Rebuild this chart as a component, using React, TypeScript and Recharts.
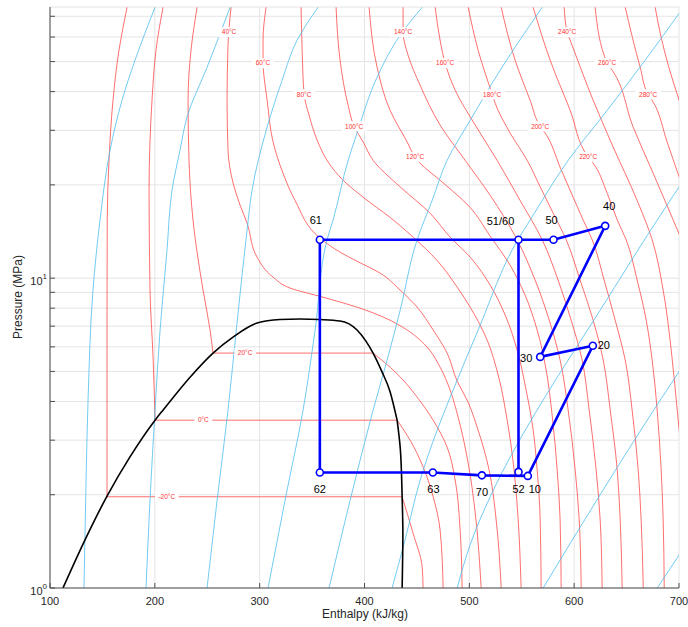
import React from "react";
import { LineChart, Line, XAxis, YAxis, CartesianGrid } from "recharts";

type Row = [number, number];
type Pt = { h: number; p: number };

// enthalpy h in kJ/kg, pressure p in MPa

// saturation dome
const domeTop: Row[] = [
  [112.4, 1], [133.4, 1.43], [154.4, 1.98], [176.3, 2.65], [200.2, 3.48], [207.8, 3.75],
  [233.6, 4.79], [255.5, 5.73], [274.6, 6.45], [297.5, 7.16], [319.5, 7.35], [338.6, 7.38],
  [357.6, 7.35], [376.7, 7.27], [392.9, 6.8], [401.5, 6.25], [408.2, 5.73], [416.5, 5.0],
  [424.4, 4.3], [431.1, 3.48],
];
const domeFoot: Row[] = [
  [431.1, 3.48], [434.2, 2.8], [435.9, 1.97], [436.6, 1.5], [436.3, 1.2], [435.9, 1],
];

// subcritical isotherms: compressed liquid, plateau, superheated vapour
const tM20Liquid: Row[] = [[173.5, 74.8], [165.8, 54.4], [160.1, 37.5], [156.3, 24], [154.6, 15.4], [154.4, 8], [154.4, 1.97]];
const tM20Plateau: Row[] = [[154.4, 1.97], [435.9, 1.97]];
const tM20Vapour: Row[] = [[435.9, 1.97], [446.4, 1.5], [455, 1.17], [455.9, 1]];

const t0Liquid: Row[] = [[207.8, 74.8], [201.1, 54.4], [197.3, 37.5], [194.5, 19.2], [195.4, 9.15], [198.3, 5.56], [200.2, 3.48]];
const t0Plateau: Row[] = [[200.2, 3.48], [431.1, 3.48]];
const t0Vapour: Row[] = [[431.1, 3.48], [443.5, 3.0], [455.9, 2.46], [465.5, 1.97], [472.1, 1.54], [475, 1]];

const t20Liquid: Row[] = [[240.3, 74.8], [234.5, 54.4], [231.7, 37.5], [232.6, 24], [236.4, 15.4], [246, 9.15], [252.7, 6.8], [255.5, 5.73]];
const t20Plateau: Row[] = [[255.5, 5.73], [408.2, 5.73]];
const t20Vapour: Row[] = [[408.2, 5.73], [424.4, 5.16], [436.8, 4.69], [450.2, 4.13], [465.5, 3.48], [478.8, 2.85], [486.5, 2.23], [491.2, 1.54], [493.1, 1]];

// supercritical isotherms
const t40: Row[] = [[272.7, 74.8], [269.8, 56.4], [268.9, 37.5], [269.8, 25.9], [274.6, 20.3], [281.3, 17.2], [288, 15.05], [297.5, 11.69], [312.8, 10.07], [329, 9.29], [360.5, 8.68], [392.9, 8.06], [417.8, 7.49], [440.7, 6.8], [459.7, 5.99], [472.1, 5.16], [481.7, 4.35], [489.3, 3.56], [498.9, 2.53], [505.6, 1.75], [511.3, 1]];
const t60: Row[] = [[306.1, 74.8], [303.2, 58.6], [303.2, 49.4], [305.2, 41.9], [307.1, 37.5], [312.8, 27.5], [322.3, 21.8], [333.8, 17.8], [357.6, 13.46], [376.7, 12.13], [392.9, 11.34], [414.9, 10.38], [434, 9.15], [450.2, 8.06], [465.5, 6.8], [478.8, 5.73], [488.4, 4.65], [497.9, 4.04], [508.4, 3.23], [518.9, 2.4], [525.6, 1.66], [530.4, 1]];
const t80: Row[] = [[339.5, 74.8], [340.5, 54.4], [342.4, 39.2], [347.1, 33.6], [354.8, 27.9], [365.3, 23.7], [379.6, 20.7], [398.7, 18.25], [424.4, 15.7], [446.4, 13.56], [469.3, 11.4], [488.4, 9.35], [500.8, 8.06], [517, 6.31], [527.5, 4.87], [536.1, 3.48], [542.7, 2.4], [546.6, 1.66], [549.4, 1]];
const t100: Row[] = [[372.9, 74.8], [376.7, 50.5], [384.4, 36.1], [390.1, 30.9], [398.7, 27.5], [408.2, 24], [434, 19.7], [462.6, 16.2], [481.7, 13.56], [500.8, 11.69], [519.9, 9.49], [534.2, 7.6], [545.6, 5.86], [554.2, 4.35], [560.9, 3.23], [564.7, 2.4], [567.6, 1.66], [568.5, 1]];
const t120: Row[] = [[404.4, 74.8], [412, 47.9], [424.4, 34.8], [440.7, 27.5], [448.3, 24.6], [453.1, 23.5], [472.1, 20.7], [500.8, 16.9], [519.9, 13.66], [538.9, 11.01], [553.2, 8.81], [564.7, 6.8], [573.3, 5.05], [579, 3.61], [583.8, 2.4], [586.6, 1.66], [587.6, 1]];
const t140: Row[] = [[436.8, 74.8], [436.8, 62.2], [441.6, 52.4], [453.1, 41.9], [472.1, 31.2], [496, 24], [519.9, 18.5], [545.6, 13.3], [562.8, 9.85], [576.2, 7.32], [586.6, 5.44], [594.3, 3.75], [601, 2.4], [604.8, 1.66], [606.7, 1]];
const t160: Row[] = [[467.4, 74.8], [472.1, 58.6], [476.9, 49.4], [486.5, 40.4], [505.6, 31.2], [526.5, 24], [548.5, 17.8], [569.5, 13.3], [584.7, 9.85], [597.1, 7.32], [607.6, 5.44], [614.3, 3.75], [621, 2.4], [624.8, 1.66], [626.7, 1]];
const t180: Row[] = [[498.9, 74.8], [508.4, 54.4], [521.8, 39.2], [524.6, 36.7], [538.9, 29.4], [555.2, 24], [567.6, 19.7], [580, 16.2], [592.4, 13.3], [605.7, 9.85], [618.1, 7.32], [627.7, 5.44], [634.4, 3.75], [641.1, 2.4], [643.9, 1.66], [645.8, 1]];
const t200: Row[] = [[530.4, 74.8], [543.7, 50.5], [558, 37.5], [567.6, 30.9], [572.3, 29.4], [586.6, 22.8], [599, 18.25], [608.6, 15.4], [617.2, 13.3], [628.6, 9.85], [639.1, 7.32], [648.7, 5.44], [655.3, 3.75], [661.1, 2.4], [663.9, 1.66], [665.9, 1]];
const t220: Row[] = [[560.9, 74.8], [577.1, 50.5], [596.2, 34.8], [613.4, 24.6], [618.1, 23.5], [631.5, 18.8], [641.1, 15.4], [649.6, 13.3], [660.1, 9.85], [668.7, 7.32], [674.4, 5.44], [679.2, 3.75], [683, 2.4], [684.9, 1.66], [685.9, 1]];
const t240: Row[] = [[590.5, 74.8], [593.3, 62.2], [596.2, 58.6], [618.1, 37.5], [637.2, 26.5], [660.1, 17.8], [674.4, 13.3], [684.9, 9.15], [692.6, 5.86], [699.2, 3.48], [704, 2.4], [707.8, 1]];
const t260: Row[] = [[620, 74.8], [631.5, 49.4], [636.3, 46.9], [656.3, 30.7], [675.4, 21.8], [694.5, 15.4], [710.7, 11.4]];
const t280: Row[] = [[648.7, 74.8], [663, 47.9], [670.6, 39.2], [674.4, 37.5], [688.7, 27.5], [700.2, 21.2], [710.7, 17.2]];
const t300: Row[] = [[677.3, 74.8], [682.1, 61.7], [700.2, 37.5], [710.7, 30]];

// isentropes, bottom to top
const s1: Row[] = [[132.4, 1], [134.4, 2.23], [136.3, 4.04], [141, 9.15], [147.7, 15.4], [157.3, 25.9], [168.7, 37.5], [181.1, 50.5], [200.2, 74.8]];
const s2: Row[] = [[191.6, 1], [195.4, 1.92], [200.2, 3.75], [205, 6.8], [211.6, 12.3], [216.4, 19.2], [224, 25.9], [230.7, 33.1], [249.8, 47.9], [271.8, 74.8]];
const s3: Row[] = [[249.8, 1], [259.4, 1.92], [269.8, 3.75], [278.4, 7.16], [288, 14.3], [292.7, 19.2], [307.1, 30.7], [321.4, 43.5], [335.7, 58.6], [355.7, 74.8]];
const s4: Row[] = [[308, 1], [324.2, 1.92], [341.4, 3.75], [352.9, 6.8], [364.3, 13.3], [370, 15.4], [384.4, 24], [392.9, 29.4], [412, 44.5], [434, 60.8], [455, 74.8]];
const s5: Row[] = [[366.2, 1], [386.3, 1.92], [408.2, 3.75], [421.6, 5.44], [434, 7.88], [450.2, 13.3], [464.5, 17.8], [478.8, 24], [500.8, 32.3], [529.4, 46.9], [569.5, 74.8]];
const s6: Row[] = [[426.3, 1], [438.7, 1.43], [453.1, 2.23], [469.3, 3.23], [486.5, 4.52], [508.4, 6.8], [546.6, 13.36], [558, 15.4], [594.3, 24], [631.5, 34.8], [667.7, 50.5], [700.2, 71.6]];
const s7: Row[] = [[488.4, 1], [500.8, 1.38], [519.9, 1.97], [543.7, 2.83], [570.4, 4.04], [624.8, 7.88], [679.2, 15.4], [710.7, 22.3]];
const s8: Row[] = [[570.4, 1], [624.8, 2.0], [682.1, 4.04], [720.3, 6.31]];
const s9: Row[] = [[679.2, 1], [700.2, 1.28], [720.3, 1.63]];

// isotherm captions
const isoLabelText = ["-20°C", "0°C", "20°C", "40°C", "60°C", "80°C", "100°C", "120°C", "140°C", "160°C", "180°C", "200°C", "220°C", "240°C", "260°C", "280°C"];
const isoLabelH = [211.4, 246.3, 286.1, 270.8, 303.2, 342.4, 390.1, 448.3, 436.8, 476.9, 521.8, 567.6, 613.4, 593.3, 631.5, 670.6];
const isoLabelP = [1.97, 3.48, 5.73, 62.2, 49.4, 39.2, 30.9, 24.6, 62.2, 49.4, 39.2, 30.9, 24.6, 62.2, 49.4, 39.2];

// cycle state points
const stateNames = ["10", "20", "30", "40", "50", "51/60", "61", "62", "63", "70", "52"];
const stateH = [555.8, 617.8, 567.6, 629.6, 580.3, 546.9, 357.4, 357.4, 465.2, 512.0, 546.9];
const stateP = [2.3, 6.05, 5.57, 14.75, 13.3, 13.3, 13.3, 2.36, 2.36, 2.31, 2.37];
const loopOrder = ["10", "20", "30", "40", "50", "51/60", "61", "62", "63", "70", "10"];
const branchOrder = ["51/60", "52"];

const xTicks = [100, 200, 300, 400, 500, 600, 700];
const yTicks = [1, 2, 3, 4, 5, 6, 7, 8, 9, 10, 20, 30, 40, 50, 60, 70];

const W = 688;
const H = 627;
const RED = "#ff3030";
const CYAN = "#4dbeee";
const BLUE = "#0000ff";
const AXIS = "#4d4d4d";
const INK = "#262626";
const GRID = "#e4e4e4";
const FONT = "'Liberation Sans', Arial, Helvetica, sans-serif";

// where each state's caption sits relative to its marker
const stateCaption: Record<string, [number, number]> = {
  "10": [7, 17], "20": [11, 3], "30": [-14, 5], "40": [4, -16], "50": [-2, -16],
  "51/60": [-18, -15], "61": [-4, -16], "62": [0, 21], "63": [0.6, 21], "70": [0, 20.5], "52": [0, 21.5],
};

const toPts = (rows: Row[]): Pt[] => rows.map(([h, p]) => ({ h, p }));
const statePt = (name: string) => {
  const i = stateNames.indexOf(name);
  return { h: stateH[i], p: stateP[i], name };
};

const subcritical = [tM20Liquid, tM20Vapour, t0Liquid, t0Vapour, t20Liquid, t20Vapour];
const plateaus = [tM20Plateau, t0Plateau, t20Plateau];
const supercritical = [t40, t60, t80, t100, t120, t140, t160, t180, t200, t220, t240, t260, t280, t300];
const isentropes = [s1, s2, s3, s4, s5, s6, s7, s8, s9];

const isoLabels = isoLabelText.map((text, i) => ({ h: isoLabelH[i], p: isoLabelP[i], text }));
const states = stateNames.map(statePt);
const loop = loopOrder.map(statePt);
const branch = branchOrder.map(statePt);

const glyphW: Record<string, number> = { "-": 0.333, "°": 0.4, C: 0.722 };
const captionWidth = (t: string, size: number) =>
  t.split("").reduce((w, c) => w + (glyphW[c] ?? 0.556), 0) * size;

function BottomTick({ x, y, payload }: any) {
  return (
    <g>
      <line x1={x} y1={y} x2={x} y2={y - 5} stroke={AXIS} />
      <text x={x} y={y + 17} textAnchor="middle" fontSize={11} fill={INK} fontFamily={FONT}>
        {payload.value}
      </text>
    </g>
  );
}

function TopTick({ x, y }: any) {
  return <line x1={x} y1={y} x2={x} y2={y + 5} stroke={AXIS} />;
}

function LeftTick({ x, y, payload }: any) {
  const v = payload.value;
  const exp = v === 1 ? "0" : v === 10 ? "1" : null;
  return (
    <g>
      <line x1={x} y1={y} x2={x + 5} y2={y} stroke={AXIS} />
      {exp && (
        <text x={x - 3} y={y + 7} textAnchor="end" fontSize={11} fill={INK} fontFamily={FONT}>
          10
          <tspan fontSize={8} dy={-6}>
            {exp}
          </tspan>
        </text>
      )}
    </g>
  );
}

function RightTick({ x, y }: any) {
  return <line x1={x} y1={y} x2={x - 5} y2={y} stroke={AXIS} />;
}

const renderIsoLabel = (props: any) => {
  const { cx, cy, payload, index } = props;
  const w = captionWidth(payload.text, 6.5) + 7;
  return (
    <g key={`iso-label-${index}`}>
      <rect x={cx - w / 2} y={cy - 5} width={w} height={10} fill="#fff" />
      <text x={cx} y={cy + 2.3} textAnchor="middle" fontSize={6.5} fill={RED} fontFamily={FONT}>
        {payload.text}
      </text>
    </g>
  );
};

const renderState = (props: any) => {
  const { cx, cy, payload, index } = props;
  const [dx, dy] = stateCaption[payload.name];
  return (
    <g key={`state-${index}`}>
      <circle cx={cx} cy={cy} r={3.5} fill="#fff" stroke={BLUE} strokeWidth={1.6} />
      <text x={cx + dx} y={cy + dy} textAnchor="middle" fontSize={11} fill="#000" fontFamily={FONT}>
        {payload.name}
      </text>
    </g>
  );
};

const thin = { dot: false, activeDot: false, isAnimationActive: false, dataKey: "p" } as const;

export default function App() {
  return (
    <div style={{ position: "absolute", left: 0, top: 0, width: W, height: H, background: "#fff", fontFamily: FONT }}>
      <LineChart width={W} height={H} margin={{ top: 7, right: 9, bottom: 0, left: 0 }}>
        <CartesianGrid stroke={GRID} strokeWidth={1} />
        <XAxis
          dataKey="h"
          type="number"
          domain={[100, 700]}
          ticks={xTicks}
          interval={0}
          allowDataOverflow
          height={39}
          tickLine={false}
          tickSize={0}
          tickMargin={0}
          axisLine={{ stroke: AXIS }}
          tick={(p: any) => <BottomTick {...p} />}
        />
        <XAxis
          xAxisId="top"
          orientation="top"
          type="number"
          domain={[100, 700]}
          ticks={xTicks}
          interval={0}
          allowDataOverflow
          height={0}
          tickLine={false}
          tickSize={0}
          tickMargin={0}
          axisLine={{ stroke: AXIS }}
          tick={(p: any) => <TopTick {...p} />}
        />
        <YAxis
          dataKey="p"
          type="number"
          scale="log"
          domain={[1, 75]}
          ticks={yTicks}
          interval={0}
          allowDataOverflow
          width={50}
          tickLine={false}
          tickSize={0}
          tickMargin={0}
          axisLine={{ stroke: AXIS }}
          tick={(p: any) => <LeftTick {...p} />}
        />
        <YAxis
          yAxisId="right"
          orientation="right"
          type="number"
          scale="log"
          domain={[1, 75]}
          ticks={yTicks}
          interval={0}
          allowDataOverflow
          width={0}
          tickLine={false}
          tickSize={0}
          tickMargin={0}
          axisLine={{ stroke: AXIS }}
          tick={(p: any) => <RightTick {...p} />}
        />

        {subcritical.map((rows, i) => (
          <Line key={`sub-${i}`} {...thin} data={toPts(rows)} type="monotoneY" stroke={RED} strokeWidth={0.7} />
        ))}
        {plateaus.map((rows, i) => (
          <Line key={`flat-${i}`} {...thin} data={toPts(rows)} type="linear" stroke={RED} strokeWidth={0.7} />
        ))}
        {supercritical.map((rows, i) => (
          <Line key={`sup-${i}`} {...thin} data={toPts(rows)} type="monotoneY" stroke={RED} strokeWidth={0.7} />
        ))}

        <Line {...thin} data={isoLabels} type="linear" stroke="none" dot={renderIsoLabel} />

        {isentropes.map((rows, i) => (
          <Line key={`s-${i}`} {...thin} data={toPts(rows)} type="monotoneY" stroke={CYAN} strokeWidth={0.8} />
        ))}

        <Line {...thin} data={toPts(domeTop)} type="monotoneX" stroke="#000" strokeWidth={1.6} />
        <Line {...thin} data={toPts(domeFoot)} type="monotoneY" stroke="#000" strokeWidth={1.6} />

        <Line {...thin} data={loop} type="linear" stroke={BLUE} strokeWidth={2.6} />
        <Line {...thin} data={branch} type="linear" stroke={BLUE} strokeWidth={2.6} />
        <Line {...thin} data={states} type="linear" stroke="none" dot={renderState} />
      </LineChart>

      <div
        style={{
          position: "absolute",
          left: 365,
          top: 607,
          transform: "translateX(-50%)",
          fontSize: 12,
          lineHeight: "14px",
          color: INK,
          whiteSpace: "nowrap",
        }}
      >
        Enthalpy (kJ/kg)
      </div>
      <div
        style={{
          position: "absolute",
          left: 18,
          top: 297,
          transform: "translate(-50%, -50%) rotate(-90deg)",
          fontSize: 12,
          lineHeight: "14px",
          color: INK,
          whiteSpace: "nowrap",
        }}
      >
        Pressure (MPa)
      </div>
    </div>
  );
}
